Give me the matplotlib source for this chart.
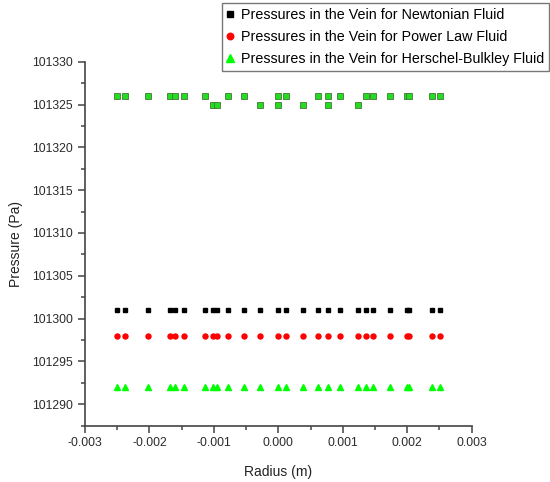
import matplotlib as mpl

mpl.use('Agg')
import matplotlib.pyplot as plt
from matplotlib.ticker import MultipleLocator, FormatStrFormatter
import numpy as np

plt.rcParams['font.family'] = ['Liberation Sans', 'DejaVu Sans']

# radius positions (mm -> m) of the measurement points
radius = np.array([-2.50, -2.38, -2.02, -1.68, -1.61, -1.46, -1.13, -1.01, -0.95,
                   -0.78, -0.53, -0.28, 0.00, 0.12, 0.38, 0.62, 0.77, 0.96,
                   1.24, 1.36, 1.47, 1.73, 1.99, 2.03, 2.38, 2.51]) * 1e-3
p_newtonian = np.full(radius.size, 101301.0)
p_powerlaw = np.full(radius.size, 101298.0)
p_herschel = np.full(radius.size, 101292.0)

# upper band (the three fluids coincide)
radius_top = np.array([-2.50, -2.38, -2.02, -1.68, -1.61, -1.46, -1.13, -1.01, -0.95,
                       -0.78, -0.53, -0.28, 0.00, 0.00, 0.12, 0.38, 0.62, 0.77, 0.77,
                       0.96, 1.24, 1.36, 1.47, 1.73, 1.99, 2.03, 2.38, 2.51]) * 1e-3
p_top = np.array([101326, 101326, 101326, 101326, 101326, 101326, 101326, 101325, 101325,
                  101326, 101326, 101325, 101325, 101326, 101326, 101325, 101326, 101325, 101326,
                  101326, 101325, 101326, 101326, 101326, 101326, 101326, 101326, 101326])

labels = ['Pressures in the Vein for Newtonian Fluid',
          'Pressures in the Vein for Power Law Fluid',
          'Pressures in the Vein for Herschel-Bulkley Fluid']

fig = plt.figure(figsize=(5.5, 4.82), dpi=100)
ax = fig.add_axes([0.1545, 0.117, 0.703, 0.755])

h1, = ax.plot(radius, p_newtonian, 's', color='black', ms=3.4, ls='none', label=labels[0])
h2, = ax.plot(radius, p_powerlaw, 'o', color='#ff0000', ms=3.6, ls='none', label=labels[1])
h3, = ax.plot(radius, p_herschel, '^', color='#00ff00', ms=4.6, ls='none', label=labels[2])
# overlapping markers at the top band
ax.plot(radius_top, p_top, 's', mfc='#22dd22', mec='#447733', mew=0.6, ms=4.0, ls='none')

ax.set_xlim(-0.003, 0.003)
ax.set_ylim(101287.5, 101330)
ax.xaxis.set_major_locator(MultipleLocator(0.001))
ax.xaxis.set_minor_locator(MultipleLocator(0.0005))
ax.xaxis.set_major_formatter(FormatStrFormatter('%.3f'))
ax.yaxis.set_major_locator(MultipleLocator(5))
ax.yaxis.set_minor_locator(MultipleLocator(2.5))
ax.yaxis.set_major_formatter(FormatStrFormatter('%d'))

for s in ['top', 'right']:
    ax.spines[s].set_visible(False)
for s in ['left', 'bottom']:
    ax.spines[s].set_color('#444444')
    ax.spines[s].set_linewidth(1.2)
ax.tick_params(which='major', direction='out', length=5, width=1.1, color='#444444',
               labelsize=8.8, labelcolor='#2a2a2a')
ax.tick_params(which='minor', direction='out', length=3, width=1.1, color='#444444')

ax.set_xlabel('Radius (m)', fontsize=10, color='#222222', labelpad=11)
ax.set_ylabel('Pressure (Pa)', fontsize=10, color='#222222', labelpad=7)

leg = fig.legend(handles=[h1, h2, h3], loc='upper left', bbox_to_anchor=(0.403, 0.993),
                 fontsize=10.3, frameon=True, fancybox=False, handlelength=0.5,
                 handletextpad=0.5, borderpad=0.35, borderaxespad=0, labelspacing=0.55,
                 markerscale=1.3)
leg.get_frame().set_edgecolor('#555555')
leg.get_frame().set_linewidth(1.0)

fig.savefig('out.png', dpi=100)
